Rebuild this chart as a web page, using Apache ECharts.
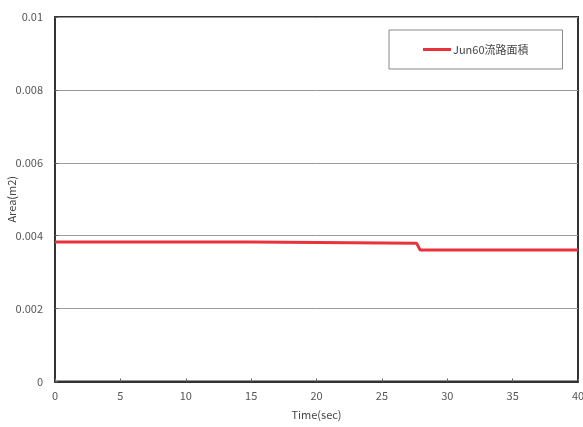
<!DOCTYPE html>
<html><head><meta charset="utf-8">
<script src="https://cdn.jsdelivr.net/npm/echarts@6/dist/echarts.min.js"></script>
<style>html,body{margin:0;padding:0;background:#fff}#c{width:583px;height:427px}</style>
</head><body><div id="c"></div>
<script>
const seriesName = 'Jun60流路面積';
const times = [0, 15, 15.1, 27.66, 27.92, 40];
const areas = [0.00383, 0.00383, 0.00379, 0.00379, 0.00361, 0.00361];
const xTicks = [0, 5, 10, 15, 20, 25, 30, 35, 40];
const yTicks = [0, 0.002, 0.004, 0.006, 0.008, 0.01];

const font = '"Noto Sans CJK JP", "DejaVu Sans", sans-serif';
const chart = echarts.init(document.getElementById('c'), null, {renderer: 'canvas'});
chart.setOption({
  animation: false,
  backgroundColor: '#fff',
  textStyle: {fontFamily: font},
  grid: {left: 55, right: 5, top: 17, bottom: 45.5, show: true, borderColor: '#333', borderWidth: 2,
    containLabel: false, outerBoundsMode: 'none'},
  legend: {
    data: [{name: seriesName, icon: 'rect'}],
    left: 389, top: 30,
    itemWidth: 28, itemHeight: 3, itemGap: 0,
    padding: [14, 34, 14, 34],
    backgroundColor: '#fff', borderColor: '#888', borderWidth: 1,
    textStyle: {fontFamily: font, fontSize: 11, color: '#444', padding: [0, 0, 0, -3]}
  },
  xAxis: {
    type: 'value', min: 0, max: 40, interval: 5,
    name: 'Time(sec)', nameLocation: 'middle', nameGap: 28, nameMoveOverlap: false,
    nameTextStyle: {fontFamily: font, fontSize: 11, color: '#444'},
    axisLine: {show: true, lineStyle: {color: '#333', width: 2}},
    axisTick: {show: true, inside: true, length: 3, lineStyle: {color: '#666'}},
    axisLabel: {fontFamily: font, fontSize: 11, color: '#555', margin: 9,
      formatter: v => xTicks.includes(v) ? String(v) : ''},
    splitLine: {show: false}
  },
  yAxis: {
    type: 'value', min: 0, max: 0.01, interval: 0.002,
    name: 'Area(m2)', nameLocation: 'middle', nameGap: 38, nameRotate: 90, nameMoveOverlap: false,
    nameTextStyle: {fontFamily: font, fontSize: 11, color: '#444'},
    axisLine: {show: true, lineStyle: {color: '#333', width: 2}},
    axisTick: {show: true, inside: true, length: 3, lineStyle: {color: '#666'}},
    axisLabel: {fontFamily: font, fontSize: 11, color: '#555', margin: 12,
      formatter: v => { const t = yTicks.find(y => Math.abs(y - v) < 1e-9); return t === undefined ? '' : String(t); }},
    splitLine: {show: true, lineStyle: {color: '#999', width: 1}}
  },
  series: [{
    name: seriesName, type: 'line', showSymbol: false, symbol: 'none',
    data: times.map((t, i) => [t, areas[i]]),
    lineStyle: {color: '#e8323c', width: 3},
    itemStyle: {color: '#e8323c'}
  }]
});
</script></body></html>
